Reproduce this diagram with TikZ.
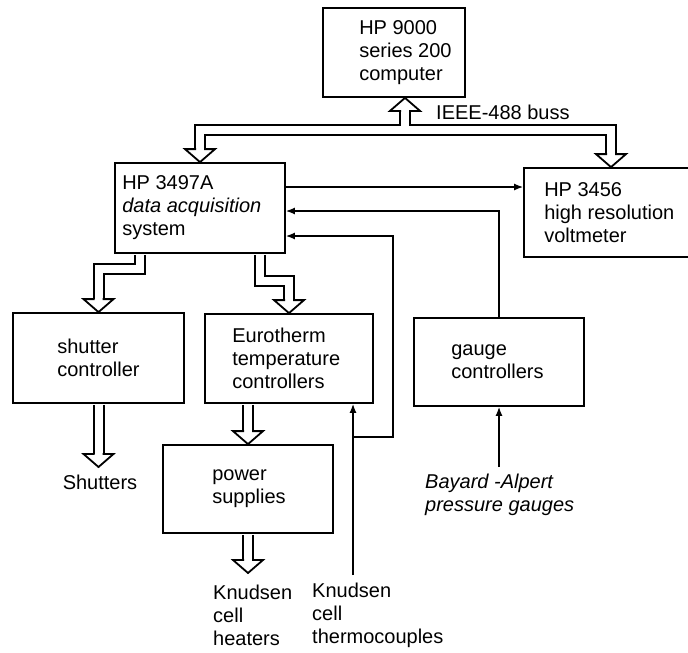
\documentclass[tikz,border=0pt]{standalone}
\usepackage{fontspec}
\setmainfont{Liberation Sans}
\usetikzlibrary{arrows.meta}

\tikzset{
  every node/.style={font=\fontsize{20}{23}\selectfont,align=left,inner sep=0pt},
  blk/.style={draw,line width=1.8pt},
  busout/.style={line width=12pt,line join=miter},
  busin/.style={white,line width=8pt,line join=miter},
  sig/.style={line width=1.4pt,-{Latex[length=9pt,width=7pt]}},
  hhead/.pic={\filldraw[fill=white,line width=1.8pt,line join=miter]
    (-4,-13) -- (-15,-13) -- (0,0) -- (15,-13) -- (4,-13);}
}

\begin{document}
\begin{tikzpicture}[x=1pt,y=-1pt]
\useasboundingbox (0,0) rectangle (688,653);

% boxes
\node[blk,minimum width=142pt,minimum height=89pt] (comp) at (394,52.5) {};
\node[blk,minimum width=170pt,minimum height=90pt] (daq) at (200,208) {};
\node[blk,minimum width=165pt,minimum height=89pt] (dvm) at (606.5,212.5) {};
\node[blk,minimum width=171pt,minimum height=90pt] (shut) at (98.5,358) {};
\node[blk,minimum width=168pt,minimum height=89pt] (euro) at (289,358.5) {};
\node[blk,minimum width=170pt,minimum height=88pt] (gauge) at (499,362) {};
\node[blk,minimum width=170pt,minimum height=88pt] (power) at (248,489) {};

\node[anchor=west] (compt) at ([xshift=37pt]comp.west) {HP 9000\\series 200\\computer};
\node[anchor=west] (daqt) at ([xshift=8pt]daq.west) {HP 3497A\\\textit{data acquisition}\\system};
\node[anchor=west] (dvmt) at ([xshift=21pt]dvm.west) {HP 3456\\high resolution\\voltmeter};
\node[anchor=west] (shutt) at ([xshift=45pt]shut.west) {shutter\\controller};
\node[anchor=west] (eurot) at ([xshift=28pt]euro.west) {Eurotherm\\temperature\\controllers};
\node[anchor=west] (gauget) at ([xshift=38pt]gauge.west) {gauge\\controllers};
\node[anchor=west] (powert) at ([xshift=50pt]power.west) {power\\supplies};

% labels
\node[anchor=west] (ieee) at (436,112) {IEEE-488 buss};
\node (shs) at (100,482) {Shutters};
\node[anchor=west] (heat) at (213,615) {Knudsen\\cell\\heaters};
\node[anchor=west] (tc) at (312,615) {Knudsen\\cell\\thermocouples};
\node[anchor=west,font=\fontsize{20}{23}\selectfont\itshape] (bay) at (425,495) {Bayard -Alpert\\pressure gauges};

\coordinate (stem) at (405,130);
\coordinate (busR) at (611,130);
\coordinate (shj) at (140,269);
\coordinate (euj) at (260,281);
\coordinate (shtip) at (98.5,467);
\coordinate (heattip) at (248,573);
\coordinate (ydvm) at (0,187);
\coordinate (ygauge) at (0,211);
\coordinate (tcloop) at (393,236);
\coordinate (tcx) at (353,437);
\coordinate (tcend) at (353,575);
\coordinate (bayend) at (499,467);

% hollow buss arrows
\foreach \s in {busout,busin}{
  \draw[\s,shorten >=13pt] (stem) -- (comp.south -| stem);
  \draw[\s,shorten <=13pt,shorten >=13pt] (daq.north) -- (daq.north |- stem) -- (busR) -- (dvm.north -| busR);
  \draw[\s,shorten <=1pt,shorten >=13pt] (daq.south -| shj) -- (shj) -- (shj -| shut.north) -- (shut.north);
  \draw[\s,shorten <=1pt,shorten >=13pt] (daq.south -| euj) -- (euj) -- (euj -| euro.north) -- (euro.north);
  \draw[\s,shorten <=1pt,shorten >=13pt] (shut.south) -- (shtip);
  \draw[\s,shorten <=1pt,shorten >=13pt] (euro.south -| power.north) -- (power.north);
  \draw[\s,shorten <=1pt,shorten >=13pt] (power.south) -- (heattip);
}
\pic[rotate=180] at (comp.south -| stem) {hhead};
\foreach \t in {daq.north,dvm.north -| busR,shut.north,euro.north,shtip,power.north,heattip}
  \pic at (\t) {hhead};

% signal lines
\draw[sig] (daq.east |- ydvm) -- (dvm.west |- ydvm);
\draw[sig] (gauge.north) |- (daq.east |- ygauge);
\draw[sig] (tcx) -| (tcloop) -- (daq.east |- tcloop);
\draw[sig] (tcend) -- (euro.south -| tcend);
\draw[sig] (bayend) -- (gauge.south);
\end{tikzpicture}
\end{document}
